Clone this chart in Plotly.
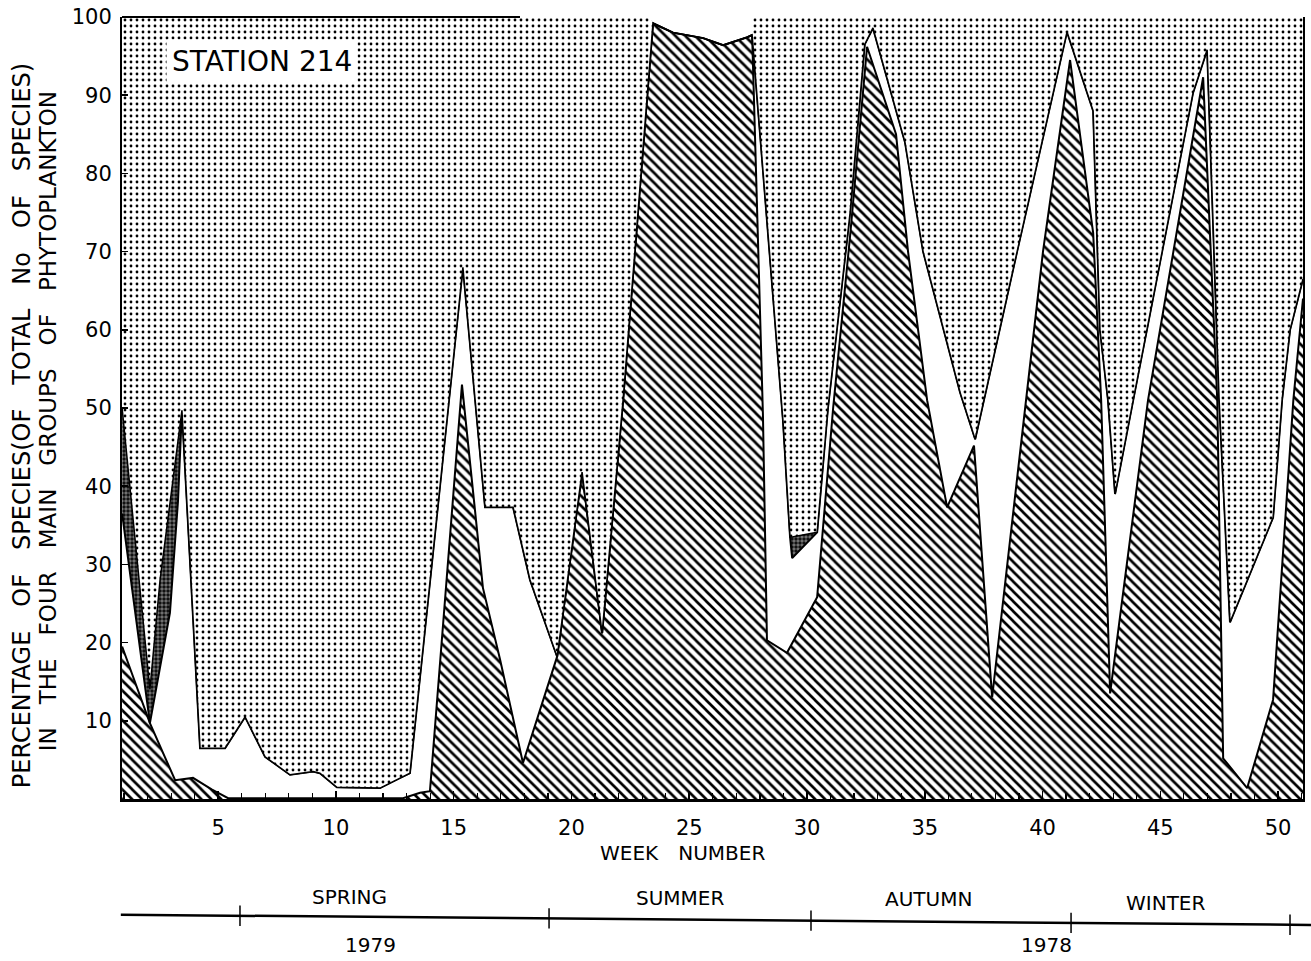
import plotly.graph_objects as go

# ---- data (week number, cumulative percentage) ----
# upper boundary of the hatched group
hatch_weeks = [0.92, 2.1, 3.17, 3.93, 4.74, 5.42, 12.85, 13.57, 13.99, 15.35, 15.9, 16.24, 16.97,
               17.94, 19.39, 20.45, 21.3, 22.19, 23.46, 24.31, 25.59, 26.44, 27.45, 27.67, 28.13,
               28.3, 29.15, 30.43, 31.11, 31.83, 32.55, 33.78, 34.29, 35.1, 35.95, 37.09, 37.86,
               40.02, 41.17, 42.15, 42.49, 42.87, 44.48, 46.82, 47.42, 47.67, 48.69, 49.79, 50.65, 51.06]
hatch_pct = [19.5, 9.7, 2.4, 2.7, 1.2, 0.1, 0.1, 0.8, 1.0, 53, 37, 27, 17.8,
             4.6, 18.2, 41.8, 21.2, 51, 99.2, 98, 97.3, 96.4, 97.4, 97.7, 49,
             20.3, 18.7, 25.8, 50, 72, 96.2, 85, 70, 51, 37.3, 45.2, 13,
             70, 94.5, 72.4, 51, 13.5, 51, 92.3, 51, 5.2, 1.4, 12.7, 51, 64]

# upper boundary of the blank (white) group
white_weeks = [0.92, 2.1, 2.95, 3.29, 3.46, 4.23, 5.29, 6.14, 6.99, 8.05, 9.03, 9.32, 10.04,
               11.87, 12.72, 13.14, 15.39, 16.33, 17.52, 18.24, 19.39, 20.45, 21.3, 22.19, 23.46,
               24.31, 25.59, 26.44, 27.45, 27.67, 28.98, 29.28, 29.37, 30.43, 30.89, 31.83, 32.45,
               32.8, 34.16, 34.93, 36.5, 37.14, 38.92, 41.04, 42.15, 42.44, 42.78, 43.08, 43.85,
               46.39, 46.99, 47.5, 47.96, 49.79, 50.17, 50.51, 51.06]
white_pct = [36.5, 9.7, 23.8, 38, 49.7, 6.5, 6.5, 10.5, 5.4, 3.1, 3.5, 3.3, 1.5,
             1.4, 2.7, 3.3, 68, 37.3, 37.3, 28, 18.2, 41.8, 21.2, 51, 99.2,
             98, 97.3, 96.4, 97.4, 97.7, 48.4, 33.5, 30.8, 34.1, 50, 75, 96.5,
             98.6, 84, 70, 52, 46, 70, 98.1, 88, 60, 51, 39, 51,
             90.3, 95.8, 51, 22.6, 36, 51, 60, 66.5]

# upper boundary of the dark group
dark_weeks = [0.92, 2.1, 2.53, 3.04, 3.46, 4.23, 5.29, 6.14, 6.99, 8.05, 9.03, 9.32, 10.04,
              11.87, 12.72, 13.14, 15.39, 16.33, 17.52, 18.24, 19.39, 20.45, 21.3, 22.19, 23.46,
              24.31, 25.59, 26.44, 27.45, 27.67, 28.98, 29.28, 29.37, 30.43, 30.89, 31.83, 32.45,
              32.8, 34.16, 34.93, 36.5, 37.14, 38.92, 41.04, 42.15, 42.44, 42.78, 43.08, 43.85,
              46.39, 46.99, 47.5, 47.96, 49.79, 50.17, 50.51, 51.06]
dark_pct = [50, 14, 28, 40, 49.7, 6.5, 6.5, 10.5, 5.4, 3.1, 3.5, 3.3, 1.5,
            1.4, 2.7, 3.3, 68, 37.3, 37.3, 28, 18.2, 41.8, 21.2, 51, 99.2,
            98, 97.3, 96.4, 97.4, 97.7, 48.4, 33.5, 33.5, 34.1, 50, 75, 96.5,
            98.6, 84, 70, 52, 46, 70, 98.1, 88, 60, 51, 39, 51,
            90.3, 95.8, 51, 22.6, 36, 51, 60, 66.5]

# upper boundary of the stippled group
top_weeks = [0.92, 23.3, 23.46, 24.31, 25.59, 26.44, 27.45, 27.67, 27.72, 51.06]
top_pct = [100, 100, 99.2, 98, 97.3, 96.4, 97.4, 97.7, 100, 100]

week_ticks = [5, 10, 15, 20, 25, 30, 35, 40, 45, 50]
pct_ticks = [10, 20, 30, 40, 50, 60, 70, 80, 90, 100]

seasons = ["SPRING", "SUMMER", "AUTUMN", "WINTER"]
years = ["1979", "1978"]

FONT = "DejaVu Sans"

fig = go.Figure()
fig.add_trace(go.Scatter(
    x=hatch_weeks, y=hatch_pct, mode="lines", fill="tozeroy",
    line=dict(color="black", width=2),
    fillpattern=dict(shape="\\", fgcolor="black", bgcolor="white", size=7, solidity=0.38,
                     fillmode="replace"),
    hoverinfo="skip"))
fig.add_trace(go.Scatter(
    x=white_weeks, y=white_pct, mode="lines", fill="tonexty", fillcolor="white",
    line=dict(color="black", width=2), hoverinfo="skip"))
fig.add_trace(go.Scatter(
    x=dark_weeks, y=dark_pct, mode="lines", fill="tonexty",
    line=dict(color="black", width=1.5),
    fillpattern=dict(shape=".", fgcolor="#111111", bgcolor="#7a7a7a", size=4, solidity=0.6,
                     fillmode="replace"),
    hoverinfo="skip"))
fig.add_trace(go.Scatter(
    x=top_weeks, y=top_pct, mode="lines", fill="tonexty",
    line=dict(color="rgba(0,0,0,0)", width=0),
    fillpattern=dict(shape=".", fgcolor="black", bgcolor="white", size=6, solidity=0.17,
                     fillmode="replace"),
    hoverinfo="skip"))

fig.update_xaxes(
    range=[0.915, 51.06], showgrid=False, zeroline=False, automargin=False,
    showline=True, linecolor="black", linewidth=2.5, mirror=False,
    tickmode="array", tickvals=week_ticks, ticktext=[str(v) for v in week_ticks],
    ticks="inside", ticklen=8, tickwidth=1.5, tickcolor="black",
    minor=dict(ticks="inside", ticklen=6, tickwidth=1.2, tickcolor="black", dtick=1, tick0=1),
    ticklabelstandoff=8, ticklabeloverflow="allow",
    tickfont=dict(family=FONT, size=21, color="black"))
fig.update_yaxes(
    range=[0, 100], showgrid=False, zeroline=False, automargin=False,
    showline=True, linecolor="black", linewidth=2, mirror=True,
    tickmode="array", tickvals=pct_ticks, ticktext=[str(v) for v in pct_ticks],
    ticks="inside", ticklen=6, tickwidth=1.5, tickcolor="black",
    ticklabelstandoff=4, ticklabeloverflow="allow",
    tickfont=dict(family=FONT, size=21, color="black"))

shapes = []
# top frame fragment at the upper left
shapes.append(dict(type="line", xref="paper", yref="paper", x0=0, x1=0.337, y0=1, y1=1,
                   line=dict(color="black", width=2)))
# season time line
shapes.append(dict(type="line", xref="paper", yref="paper", x0=-0.001, x1=1.0068,
                   y0=-0.148, y1=-0.161, line=dict(color="black", width=2.5)))
for xp in [0.0999, 0.3616, 0.5834, 0.8036, 0.989]:
    yc = -0.148 + (-0.013) * (xp + 0.001) / 1.0078
    shapes.append(dict(type="line", xref="paper", yref="paper", x0=xp, x1=xp,
                       y0=yc - 0.013, y1=yc + 0.013, line=dict(color="black", width=1.5)))

annotations = []
annotations.append(dict(text="STATION 214", xref="paper", yref="paper", x=0.1185, y=0.9425,
                        showarrow=False, xanchor="center", yanchor="middle",
                        font=dict(family=FONT, size=28, color="black"),
                        bgcolor="white", borderpad=5))
annotations.append(dict(text="PERCENTAGE\u2003OF\u2003SPECIES(OF\u2003TOTAL\u2003No\u2003OF\u2003SPECIES)",
                        xref="paper", yref="paper", x=-0.0847, y=0.478, textangle=-90,
                        showarrow=False, xanchor="center", yanchor="middle",
                        font=dict(family=FONT, size=24, color="black")))
annotations.append(dict(text="IN\u2003THE\u2003FOUR\u2003MAIN\u2003GROUPS\u2003OF\u2003PHYTOPLANKTON",
                        xref="paper", yref="paper", x=-0.0627, y=0.483, textangle=-90,
                        showarrow=False, xanchor="center", yanchor="middle",
                        font=dict(family=FONT, size=23, color="black")))
annotations.append(dict(text="WEEK\u2003NUMBER", xref="paper", yref="paper", x=0.475, y=-0.069,
                        showarrow=False, xanchor="center", yanchor="middle",
                        font=dict(family=FONT, size=20, color="black")))
for name, xp, yp in zip(seasons, [0.193, 0.4725, 0.6825, 0.8832],
                        [-0.1253, -0.1266, -0.1279, -0.133]):
    annotations.append(dict(text=name, xref="paper", yref="paper", x=xp, y=yp,
                            showarrow=False, xanchor="center", yanchor="middle",
                            font=dict(family=FONT, size=20, color="black")))
for name, xp in zip(years, [0.21, 0.7832]):
    annotations.append(dict(text=name, xref="paper", yref="paper", x=xp, y=-0.1867,
                            showarrow=False, xanchor="center", yanchor="middle",
                            font=dict(family=FONT, size=20, color="black")))

fig.update_layout(
    width=1311, height=961,
    margin=dict(l=122, r=8, t=17, b=162, autoexpand=False),
    paper_bgcolor="white", plot_bgcolor="white",
    showlegend=False, shapes=shapes, annotations=annotations,
    font=dict(family=FONT, color="black"))

# remove the browser's default 8 px body margin so the figure fills the window exactly
fig.write_html("out.html",
               config={"displayModeBar": False, "staticPlot": True},
               post_script="document.body.style.margin='0';document.body.style.overflow='hidden';")
